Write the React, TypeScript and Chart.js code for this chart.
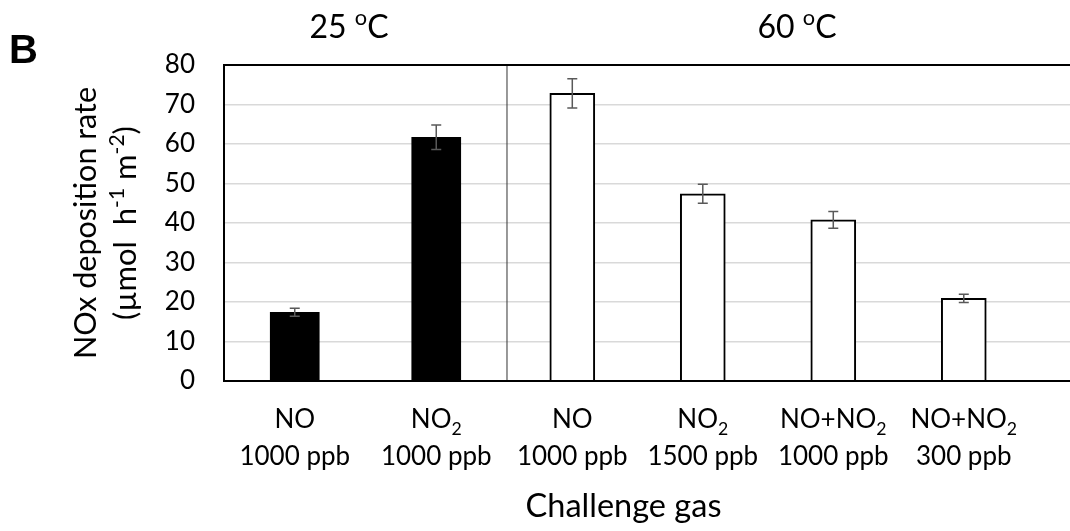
import React, { useEffect, useRef } from 'react';
import { Chart, registerables } from 'chart.js';

Chart.register(...registerables);

// Challenge gases (digits become subscripts) and their concentrations
const gases = ['NO', 'NO2', 'NO', 'NO2', 'NO+NO2', 'NO+NO2'];
const concentrations = ['1000 ppb', '1000 ppb', '1000 ppb', '1500 ppb', '1000 ppb', '300 ppb'];

// NOx deposition rate (µmol h-1 m-2) with error bars
const rates25 = [17.4, 61.7];
const errors25 = [1.0, 3.1];
const rates60 = [72.8, 47.4, 40.8, 20.9];
const errors60 = [3.7, 2.4, 2.1, 1.05];

const temperatures = ['25', '60'];
const yMin = 0;
const yMax = 80;
const yStep = 10;

const FONT = 'Lato, "Open Sans", sans-serif';

type Seg = { t: string; mode?: 'sub' | 'sup' };

const chem = (s: string): Seg[] =>
  s
    .split(/(\d)/)
    .filter(Boolean)
    .map((p) => (/^\d$/.test(p) ? { t: p, mode: 'sub' as const } : { t: p }));

function drawSegs(ctx: CanvasRenderingContext2D, segs: Seg[], x: number, y: number, size: number) {
  const small = size * 0.68;
  const fontFor = (s: Seg) => `${s.mode ? small : size}px ${FONT}`;
  const widths = segs.map((s) => {
    ctx.font = fontFor(s);
    return ctx.measureText(s.t).width;
  });
  const total = widths.reduce((a, b) => a + b, 0);
  let cx = x - total / 2;
  ctx.textAlign = 'left';
  ctx.textBaseline = 'alphabetic';
  segs.forEach((s, i) => {
    ctx.font = fontFor(s);
    const dy = s.mode === 'sub' ? size * 0.25 : s.mode === 'sup' ? -size * 0.4 : 0;
    ctx.fillText(s.t, cx, y + dy);
    cx += widths[i];
  });
}

const decorations = {
  id: 'decorations',
  afterDraw(chart: any) {
    const ctx: CanvasRenderingContext2D = chart.ctx;
    const area = chart.chartArea;
    const xL = chart.scales.xL;
    const xR = chart.scales.xR;
    const y = chart.scales.y;
    ctx.save();

    // error bars
    ctx.strokeStyle = '#595959';
    ctx.lineWidth = 1.5;
    const whisker = (px: number, v: number, e: number) => {
      const top = y.getPixelForValue(v + e);
      const bot = y.getPixelForValue(v - e);
      ctx.beginPath();
      ctx.moveTo(px, top);
      ctx.lineTo(px, bot);
      ctx.moveTo(px - 5, top);
      ctx.lineTo(px + 5, top);
      ctx.moveTo(px - 5, bot);
      ctx.lineTo(px + 5, bot);
      ctx.stroke();
    };
    rates25.forEach((v, i) => whisker(xL.getPixelForValue(i), v, errors25[i]));
    rates60.forEach((v, i) => whisker(xR.getPixelForValue(i), v, errors60[i]));

    // panel separator
    const sep = xL.getPixelForValue(rates25.length - 0.5);
    ctx.strokeStyle = '#333';
    ctx.lineWidth = 1;
    ctx.beginPath();
    ctx.moveTo(sep, area.top);
    ctx.lineTo(sep, area.bottom);
    ctx.stroke();

    // frame: top, left and bottom
    ctx.strokeStyle = '#000';
    ctx.lineWidth = 2;
    ctx.beginPath();
    ctx.moveTo(area.right, area.top);
    ctx.lineTo(area.left, area.top);
    ctx.lineTo(area.left, area.bottom);
    ctx.lineTo(area.right, area.bottom);
    ctx.stroke();

    ctx.fillStyle = '#000';

    // category labels
    const labelX = [
      ...rates25.map((_, i) => xL.getPixelForValue(i)),
      ...rates60.map((_, i) => xR.getPixelForValue(i)),
    ];
    labelX.forEach((px, i) => {
      drawSegs(ctx, chem(gases[i]), px, 428, 26);
      drawSegs(ctx, [{ t: concentrations[i] }], px, 465, 26);
    });

    // x-axis title
    const plotEnd = xR.getPixelForValue(rates60.length - 0.5);
    drawSegs(ctx, [{ t: 'Challenge gas' }], (area.left + plotEnd) / 2 - 3, 517, 32.5);

    // temperature headings
    drawSegs(ctx, [{ t: temperatures[0] + ' ' }, { t: 'o', mode: 'sup' }, { t: 'C' }], 349, 38, 32);
    drawSegs(ctx, [{ t: temperatures[1] + ' ' }, { t: 'o', mode: 'sup' }, { t: 'C' }], 797, 38, 32);

    // y-axis title (two rotated lines)
    const midY = (area.top + area.bottom) / 2;
    ctx.translate(96, midY);
    ctx.rotate(-Math.PI / 2);
    drawSegs(ctx, [{ t: 'NOx deposition rate' }], 0, 0, 30.5);
    drawSegs(
      ctx,
      [{ t: '(µmol  h' }, { t: '-1', mode: 'sup' }, { t: ' m' }, { t: '-2', mode: 'sup' }, { t: ')' }],
      0,
      40,
      31
    );
    ctx.setTransform(1, 0, 0, 1, 0, 0);

    // panel letter
    ctx.font = `bold 40px "Liberation Sans", Arial, sans-serif`;
    ctx.textAlign = 'left';
    ctx.fillText('B', 9, 63);

    ctx.restore();
  },
};

export default function App() {
  const ref = useRef<HTMLCanvasElement>(null);

  useEffect(() => {
    if (!ref.current) return;
    const chart = new Chart(ref.current, {
      type: 'bar',
      data: {
        datasets: [
          {
            label: '25 °C',
            xAxisID: 'xL',
            data: rates25.map((v, i) => ({ x: i, y: v })),
            backgroundColor: '#000',
            borderWidth: 0,
            barThickness: 49,
            grouped: false,
          },
          {
            label: '60 °C',
            xAxisID: 'xR',
            data: rates60.map((v, i) => ({ x: i, y: v })),
            backgroundColor: '#fff',
            borderColor: '#000',
            borderWidth: 2,
            barThickness: 45,
            grouped: false,
          },
        ],
      },
      options: {
        responsive: false,
        animation: false,
        devicePixelRatio: 1,
        layout: { padding: { left: 0, top: 65, right: 0, bottom: 150 } },
        plugins: { legend: { display: false }, tooltip: { enabled: false } },
        scales: {
          // 25 °C panel: two slots of equal width
          xL: { type: 'linear', display: false, offset: false, min: -0.5, max: 5.479 },
          // 60 °C panel: narrower slots starting at the separator
          xR: { type: 'linear', display: false, offset: false, min: -2.669, max: 3.814 },
          y: {
            min: yMin,
            max: yMax,
            ticks: {
              stepSize: yStep,
              color: '#000',
              padding: 29,
              font: { family: FONT, size: 26 },
            },
            grid: { color: '#d9d9d9', lineWidth: 1.5, drawTicks: false },
            border: { display: false },
            afterFit: (scale: any) => {
              scale.width = 224;
            },
          },
        },
      },
      plugins: [decorations],
    } as any);
    return () => chart.destroy();
  }, []);

  return (
    <canvas
      ref={ref}
      width={1070}
      height={531}
      style={{ position: 'fixed', left: 0, top: 0, width: 1070, height: 531 }}
    />
  );
}
